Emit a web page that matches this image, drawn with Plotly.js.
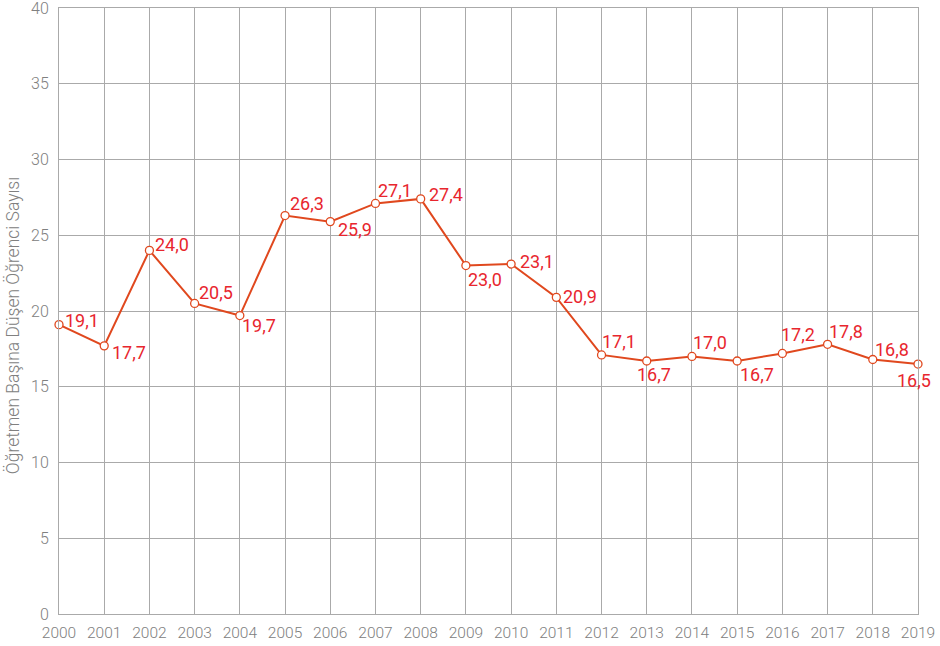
<!DOCTYPE html>
<html><head><meta charset="utf-8">
<script src="https://cdn.plot.ly/plotly-3.0.1.min.js"></script>
<style>html,body{margin:0;padding:0;background:#fff}#c{width:940px;height:646px}</style>
</head><body><div id="c"></div>
<script>
var years = [2000,2001,2002,2003,2004,2005,2006,2007,2008,2009,2010,2011,2012,2013,2014,2015,2016,2017,2018,2019];
var values = [19.1,17.7,24.0,20.5,19.7,26.3,25.9,27.1,27.4,23.0,23.1,20.9,17.1,16.7,17.0,16.7,17.2,17.8,16.8,16.5];
var yTicks = [0,5,10,15,20,25,30,35,40];
var yTitle = 'Öğretmen Başına Düşen Öğrenci Sayısı';
var labels = values.map(function(v){return v.toFixed(1).replace('.', ',');});

// label placement (pixel offsets of the label's left edge / vertical centre from its point)
var labelDx = [5,7,5,3,1,4,7,2,7,1,8,6,-1,-11,0,2,-2,0,1,-22];
var labelDy = [-4,7,-6,-11,10,-12,8,-13,-4,14,-3,-1,-13,13,-14,13,-19,-13,-10,16];

var trace = {
  x: years, y: values, type:'scatter', mode:'lines+markers',
  line:{color:'#e0481e', width:2},
  marker:{size:8, color:'#ffffff', line:{color:'#e0481e', width:1.3}},
  cliponaxis:false, hoverinfo:'none'
};
var annotations = years.map(function(yr,i){
  return {x:yr, y:values[i], text:labels[i], showarrow:false,
    xanchor:'left', yanchor:'middle', xshift:labelDx[i], yshift:-labelDy[i],
    font:{family:'Roboto', size:18, color:'#e8262e'}, borderpad:0};
});
annotations.push({xref:'paper', yref:'paper', x:-0.0547, y:0.475, xanchor:'center', yanchor:'middle',
  text:yTitle, textangle:-90, showarrow:false,
  font:{family:'Roboto', size:17.5, color:'#808080', weight:300}});
var layout = {
  width:940, height:646,
  margin:{l:59, r:22, t:8, b:32},
  paper_bgcolor:'#fff', plot_bgcolor:'#fff',
  showlegend:false,
  font:{family:'Roboto', color:'#808080'},
  annotations: annotations,
  xaxis:{range:[2000,2019], tickmode:'array', tickvals:years, ticktext:years.map(String),
    showgrid:true, gridcolor:'#aaa', gridwidth:1, zeroline:false, showline:true, linecolor:'#aaa', mirror:true,
    tickfont:{family:'Roboto', size:15.5, color:'#808080', weight:300}, ticks:'', ticklen:0,
    ticklabelstandoff:4, ticklabeloverflow:'allow'},
  yaxis:{range:[0,40], tickmode:'array', tickvals:yTicks, ticktext:yTicks.map(String),
    showgrid:true, gridcolor:'#aaa', gridwidth:1, zeroline:false,
    showline:true, linecolor:'#aaa', mirror:true,
    tickfont:{family:'Roboto', size:16, color:'#808080', weight:300}, ticks:'', ticklen:0,
    ticklabelstandoff:6, ticklabeloverflow:'allow'}
};
Plotly.newPlot('c',[trace],layout,{displayModeBar:false, staticPlot:true});
</script></body></html>
